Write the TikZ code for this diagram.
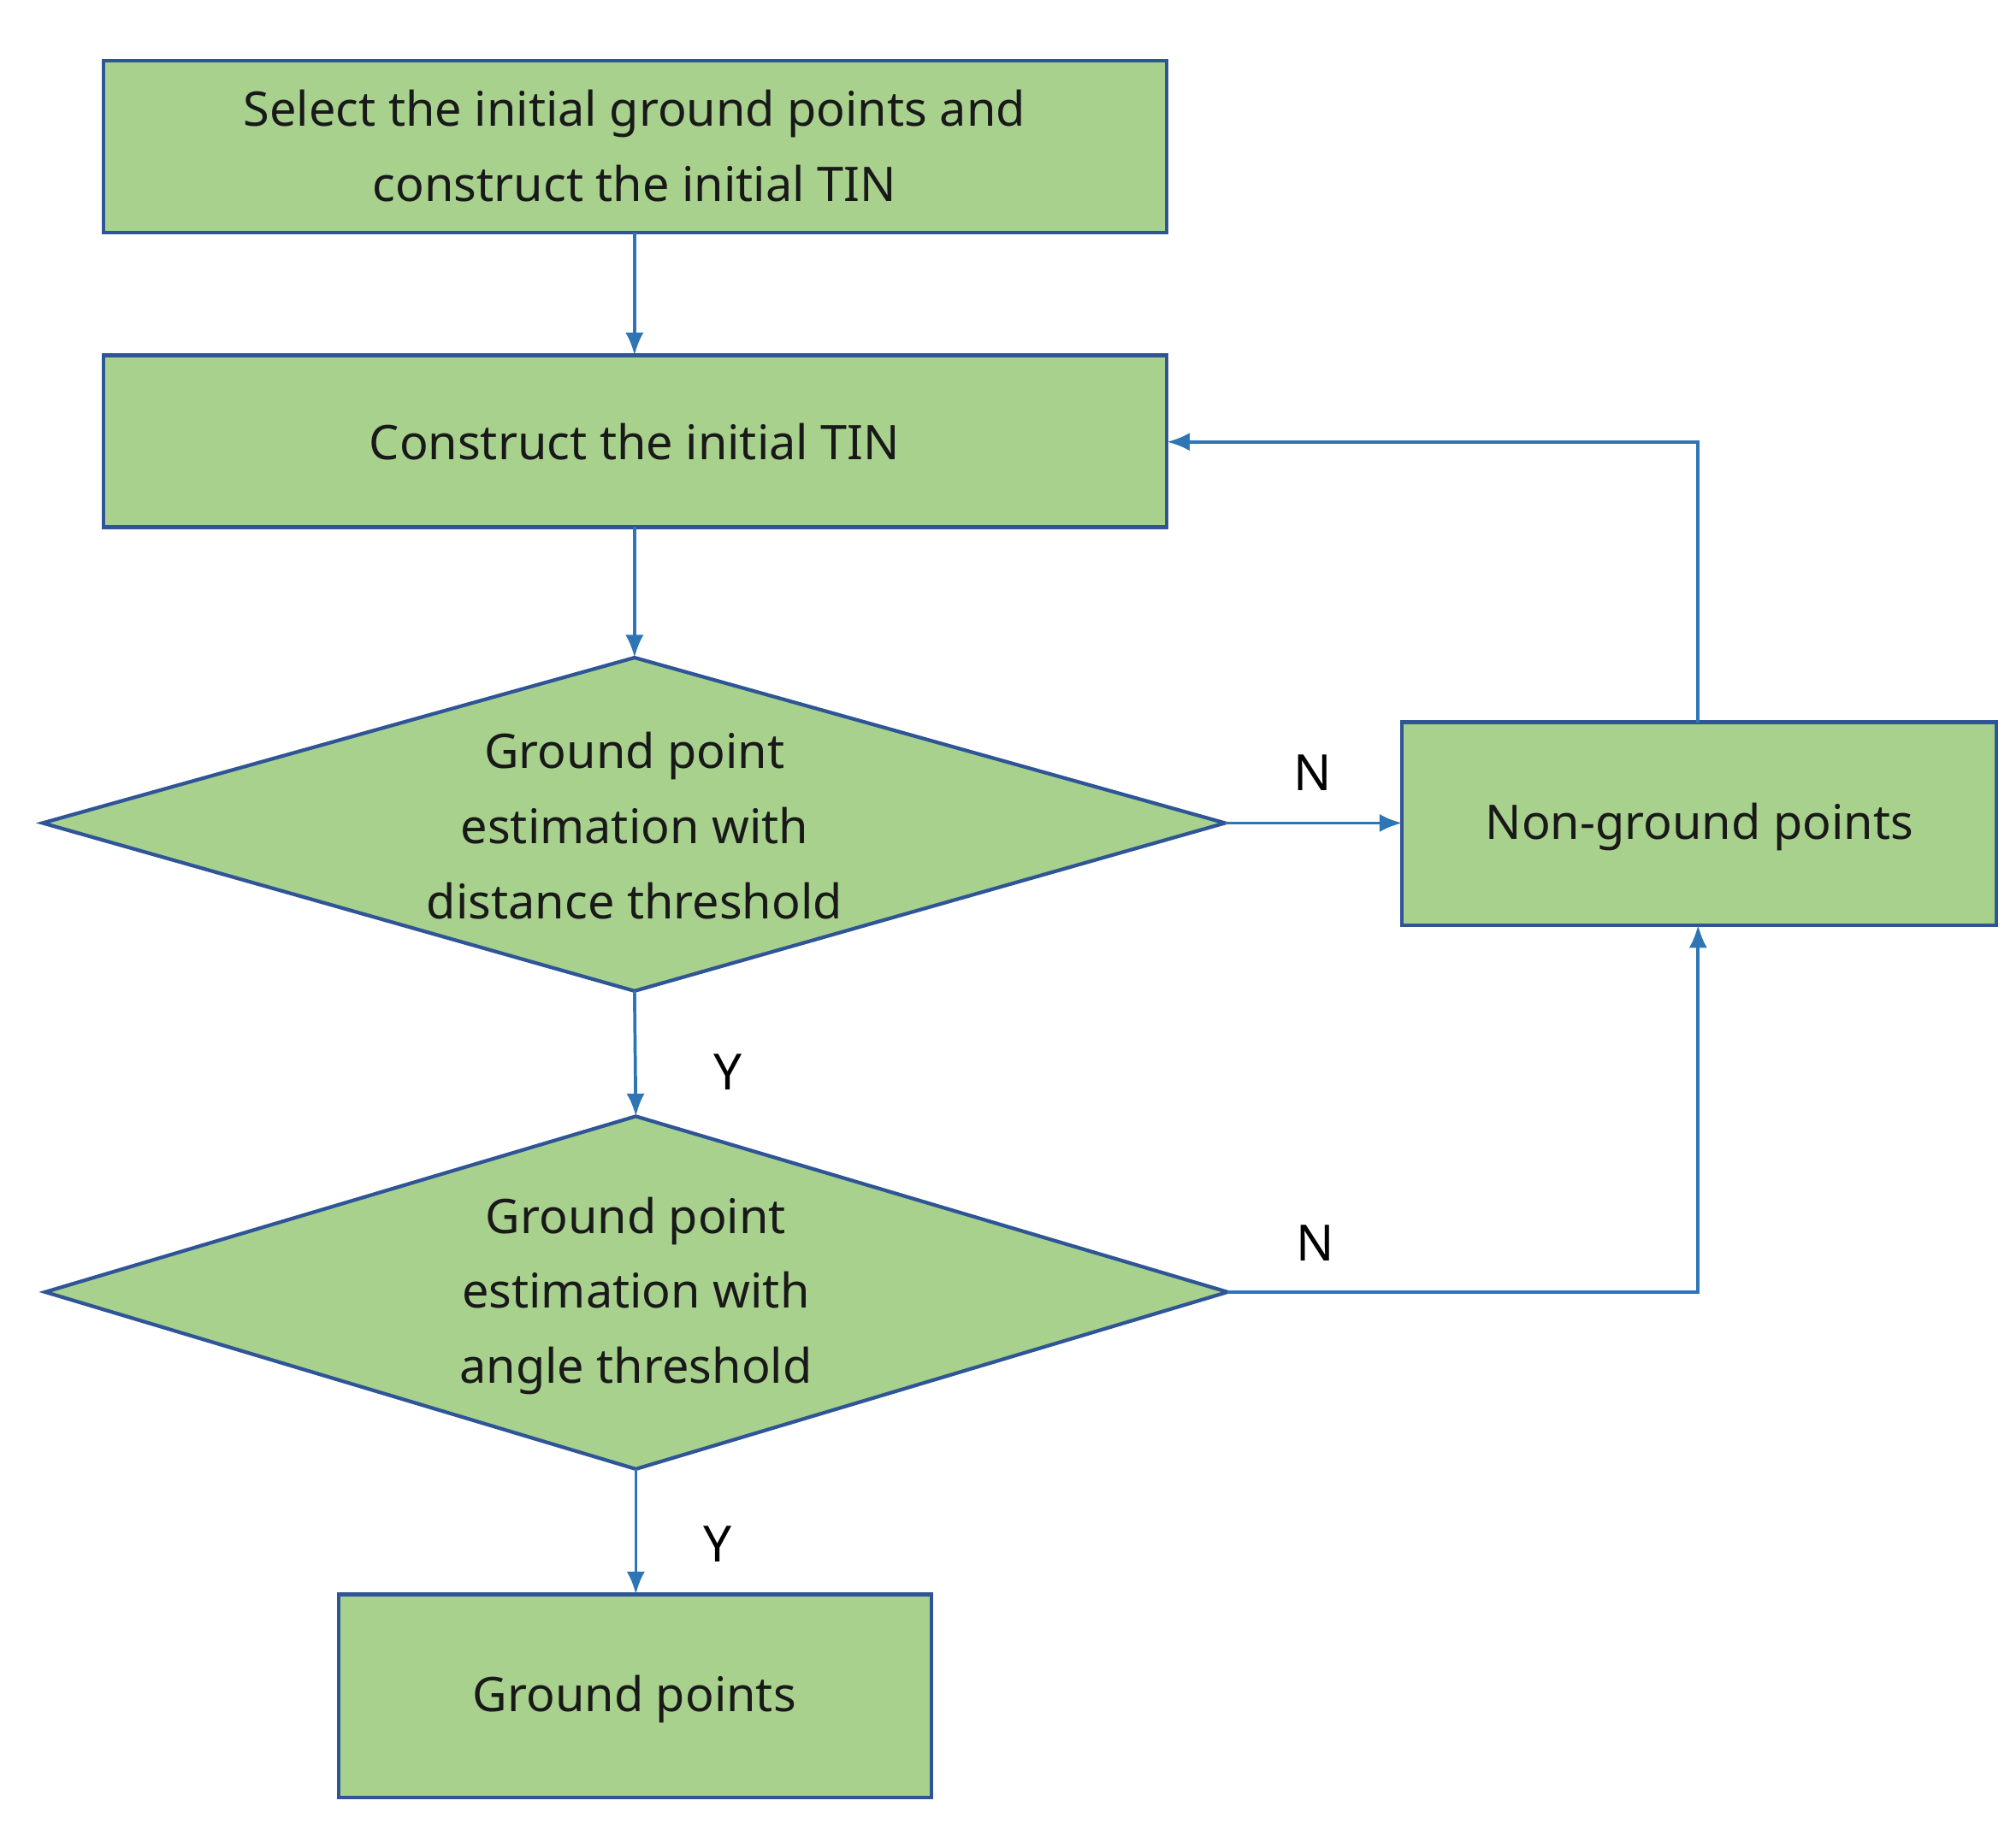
\documentclass[tikz,border=0pt]{standalone}
\usepackage{fontspec}
\setmainfont{Noto Sans}
\usetikzlibrary{arrows.meta}
\begin{document}
\begin{tikzpicture}[x=0.01cm,y=-0.01cm,
  box/.style={draw=bdr,fill=grn,line width=0.8pt},
  txt/.style={font=\fontsize{10.5}{16.5}\selectfont,align=center,text=black!90},
  arr/.style={draw=arc,line width=0.7pt,-{Latex[length=5pt,width=4pt]}},
  lbl/.style={font=\fontsize{11}{13}\selectfont}]
\definecolor{grn}{HTML}{A9D18E}
\definecolor{bdr}{HTML}{2F5597}
\definecolor{arc}{HTML}{2E75B6}
\useasboundingbox (0,0) rectangle (1560,1416);
\draw[box] (80,47) rectangle (903,180);
\node[txt] (b1) at (491,113) {Select the initial ground points and\\construct the initial TIN};
\coordinate (b1s) at (491,180);
\draw[box] (80,275) rectangle (903,408);
\node[txt] (b2) at (491,342) {Construct the initial TIN};
\coordinate (b2n) at (491,275); \coordinate (b2s) at (491,408); \coordinate (b2e) at (903,342);
\draw[box] (491,509) -- (948,637) -- (491,767) -- (33,637) -- cycle;
\node[txt] (d1) at (491,639) {Ground point\\estimation with\\distance threshold};
\coordinate (d1n) at (491,509); \coordinate (d1e) at (948,637); \coordinate (d1s) at (491,767);
\draw[box] (492,864) -- (950,1000) -- (492,1137) -- (35,1000) -- cycle;
\node[txt] (d2) at (492,1003) {Ground point\\estimation with\\angle threshold};
\coordinate (d2n) at (492,864); \coordinate (d2e) at (950,1000); \coordinate (d2s) at (492,1137);
\draw[box] (1085,559) rectangle (1545,716);
\node[txt] (ng) at (1315,640) {Non-ground points};
\coordinate (ngn) at (1314,559); \coordinate (ngs) at (1314,716); \coordinate (ngw) at (1085,637);
\draw[box] (262,1234) rectangle (721,1391);
\node[txt] (gp) at (491,1315) {Ground points};
\coordinate (gpn) at (492,1234);
\draw[arr] (b1s) -- (b2n);
\draw[arr] (b2s) -- (d1n);
\draw[arr] (d1e) -- (ngw);
\draw[arr] (d1s) -- (d2n);
\draw[arr] (d2e) -- (1314,1000) -- (ngs);
\draw[arr] (ngn) -- (1314,342) -- (b2e);
\draw[arr] (d2s) -- (gpn);
\node[lbl] (n1) at (1016,598) {N};
\node[lbl] (n2) at (1018,962) {N};
\node[lbl] (y1) at (563,830) {Y};
\node[lbl] (y2) at (555,1195) {Y};
\end{tikzpicture}
\end{document}
